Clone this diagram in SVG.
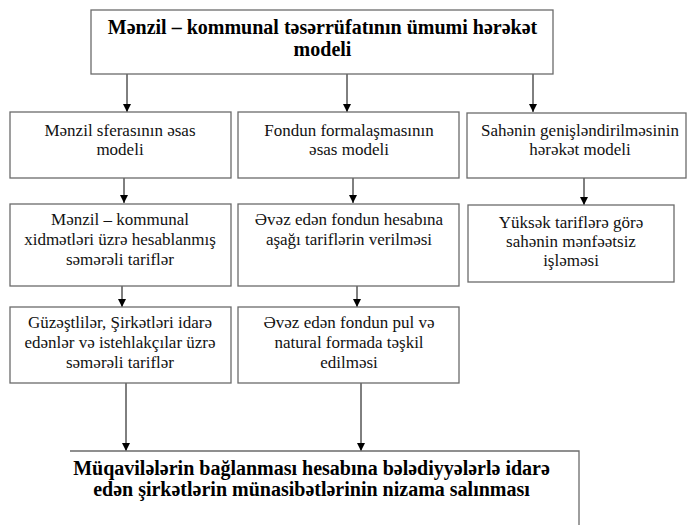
<svg xmlns="http://www.w3.org/2000/svg" width="687" height="525" viewBox="0 0 687 525">
<style>
.box{fill:#fff;stroke:#6b6b6b;stroke-width:1.3}
.t{font-family:'Liberation Serif','Times New Roman',serif;font-size:17px;fill:#111;text-anchor:middle}
.b{font-family:'Liberation Serif','Times New Roman',serif;font-size:20px;font-weight:bold;fill:#000;text-anchor:middle}
.c{stroke:#000;stroke-width:1;fill:none;marker-end:url(#ah)}
</style>
<defs>
<marker id="ah" viewBox="0 0 10 10" refX="10" refY="5" markerWidth="8" markerHeight="8" markerUnits="userSpaceOnUse" orient="auto">
<path d="M0,0 L10,5 L0,10 z" fill="#000"/>
</marker>
</defs>
<rect width="687" height="525" fill="#fff"/>
<g id="connectors">
<line class="c" x1="127" y1="74" x2="127" y2="112"/>
<line class="c" x1="347" y1="74" x2="347" y2="112"/>
<line class="c" x1="533" y1="74" x2="533" y2="112"/>
<line class="c" x1="124" y1="178" x2="124" y2="203"/>
<line class="c" x1="353" y1="178" x2="353" y2="203"/>
<line class="c" x1="584" y1="178" x2="584" y2="205"/>
<line class="c" x1="122" y1="286" x2="122" y2="307"/>
<line class="c" x1="357" y1="286" x2="357" y2="307"/>
<line class="c" x1="126" y1="383" x2="126" y2="451"/>
<line class="c" x1="361" y1="383" x2="361" y2="451"/>
</g>
<g id="top">
<rect class="box" x="91" y="10" width="462" height="64"/>
<text class="b" x="322.5" y="34">Mənzil – kommunal təsərrüfatının ümumi hərəkət</text>
<text class="b" x="322.5" y="56">modeli</text>
</g>
<g id="n1">
<rect class="box" x="10" y="112" width="221" height="66"/>
<text class="t" x="120" y="136">Mənzil sferasının əsas</text>
<text class="t" x="120" y="155">modeli</text>
</g>
<g id="n2">
<rect class="box" x="238" y="112" width="221" height="66"/>
<text class="t" x="349" y="136">Fondun formalaşmasının</text>
<text class="t" x="349" y="155">əsas modeli</text>
</g>
<g id="n3">
<rect class="box" x="467" y="113" width="219" height="65"/>
<text class="t" x="580" y="136">Sahənin genişləndirilməsinin</text>
<text class="t" x="580" y="155">hərəkət modeli</text>
</g>
<g id="n4">
<rect class="box" x="10" y="204" width="221" height="82"/>
<text class="t" x="120" y="225">Mənzil – kommunal</text>
<text class="t" x="120" y="245">xidmətləri üzrə hesablanmış</text>
<text class="t" x="120" y="265">səmərəli  tariflər</text>
</g>
<g id="n5">
<rect class="box" x="238" y="204" width="221" height="82"/>
<text class="t" x="349" y="225">Əvəz edən fondun hesabına</text>
<text class="t" x="349" y="245">aşağı tariflərin verilməsi</text>
</g>
<g id="n6">
<rect class="box" x="468" y="205" width="206" height="77"/>
<text class="t" x="571" y="228">Yüksək tariflərə görə</text>
<text class="t" x="571" y="247">sahənin mənfəətsiz</text>
<text class="t" x="571" y="266">işləməsi</text>
</g>
<g id="n7">
<rect class="box" x="10" y="307" width="221" height="76"/>
<text class="t" x="120" y="328">Güzəştlilər, Şirkətləri idarə</text>
<text class="t" x="120" y="348">edənlər və istehlakçılar üzrə</text>
<text class="t" x="120" y="368">səmərəli tariflər</text>
</g>
<g id="n8">
<rect class="box" x="238" y="307" width="221" height="76"/>
<text class="t" x="349" y="328">Əvəz edən fondun pul və</text>
<text class="t" x="349" y="348">natural formada təşkil</text>
<text class="t" x="349" y="368">edilməsi</text>
</g>
<g id="bottom">
<path class="box" d="M70,451 H579 V530"/>
<text class="b" x="311.5" y="475">Müqavilələrin bağlanması hesabına bələdiyyələrlə idarə</text>
<text class="b" x="311.5" y="496">edən şirkətlərin münasibətlərinin nizama salınması</text>
</g>
</svg>
